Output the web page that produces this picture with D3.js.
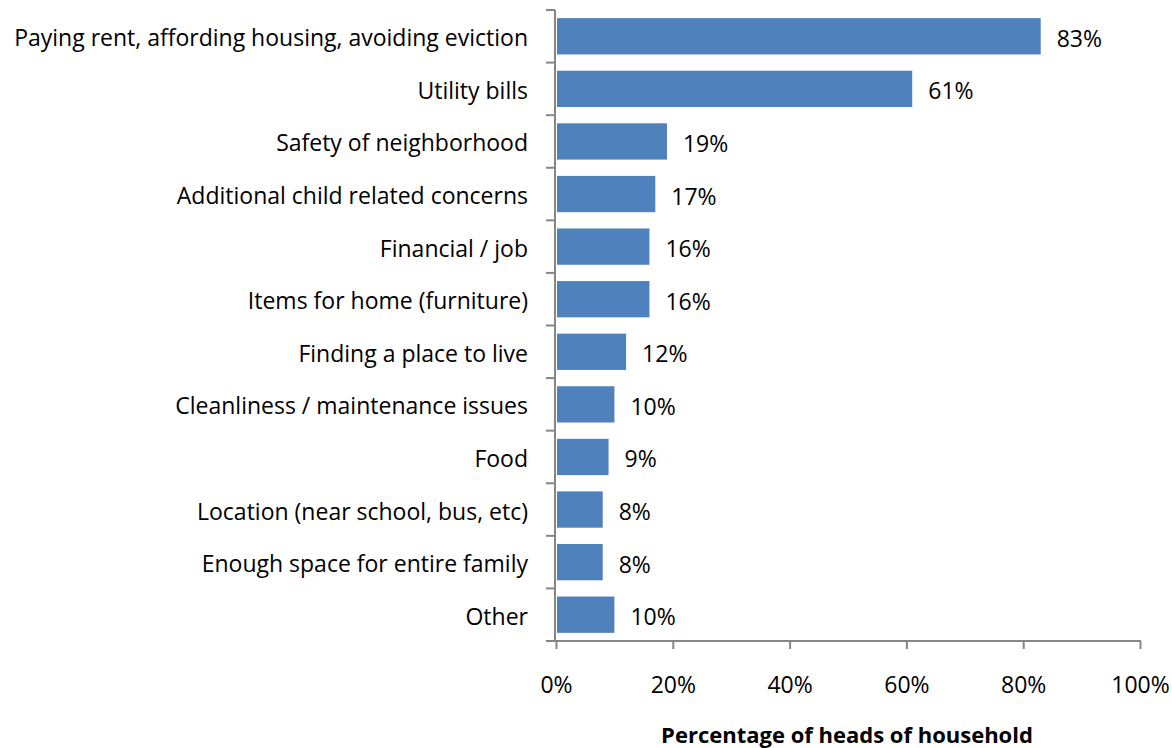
<!DOCTYPE html>
<html>
<head>
<meta charset="utf-8">
<script src="https://cdn.jsdelivr.net/npm/d3@7"></script>
<style>
  html, body { margin: 0; padding: 0; background: #ffffff; }
  svg { display: block; }
  text { font-family: "Open Sans", "Liberation Sans", sans-serif; fill: #000; }
</style>
</head>
<body>
<svg id="chart" width="1172" height="748"></svg>
<script>
// Concerns reported by heads of household
const categories = [
  "Paying rent, affording housing, avoiding eviction",
  "Utility bills",
  "Safety of neighborhood",
  "Additional child related concerns",
  "Financial / job",
  "Items for home (furniture)",
  "Finding a place to live",
  "Cleanliness / maintenance issues",
  "Food",
  "Location (near school, bus, etc)",
  "Enough space for entire family",
  "Other"
];
const percentages = [83, 61, 19, 17, 16, 16, 12, 10, 9, 8, 8, 10];
const xTicks = [0, 20, 40, 60, 80, 100];
const xTitle = "Percentage of heads of household";

const svg = d3.select("#chart");
const axisColor = "#868686";
const barColor = "#4F81BD";
const fontSize = 23;

const x = d3.scaleLinear().domain([0, 100]).range([556, 1140]);
const y = d3.scaleBand().domain(categories).range([10, 641])
  .paddingInner(0.31).paddingOuter(0.155);

const rows = categories.map((c, i) => ({ label: c, value: percentages[i] }));

// bars
svg.append("g").selectAll("rect").data(rows).join("rect")
  .attr("x", x(0) + 1)
  .attr("y", d => y(d.label))
  .attr("width", d => x(d.value) - x(0) - 1)
  .attr("height", y.bandwidth())
  .attr("fill", barColor);

// value labels
svg.append("g").selectAll("text").data(rows).join("text")
  .attr("x", d => x(d.value) + 16)
  .attr("y", d => y(d.label) + y.bandwidth() / 2 + 10.5)
  .attr("font-size", fontSize)
  .text(d => d.value + "%");

// category axis (left)
const yAxisG = svg.append("g");
const step = y.step();
yAxisG.append("line")
  .attr("x1", 555).attr("x2", 555)
  .attr("y1", 10).attr("y2", 641)
  .attr("stroke", axisColor).attr("stroke-width", 2);
yAxisG.selectAll("line.tick").data(d3.range(categories.length + 1)).join("line")
  .attr("class", "tick")
  .attr("x1", 546).attr("x2", 555)
  .attr("y1", i => 10 + i * step).attr("y2", i => 10 + i * step)
  .attr("stroke", axisColor).attr("stroke-width", 2);
yAxisG.selectAll("text").data(categories).join("text")
  .attr("x", 528)
  .attr("y", d => y(d) + y.bandwidth() / 2 + 10)
  .attr("text-anchor", "end")
  .attr("font-size", fontSize)
  .text(d => d);

// value axis (bottom)
const xAxis = d3.axisBottom(x)
  .tickValues(xTicks)
  .tickFormat(d => d + "%")
  .tickSize(8)
  .tickSizeOuter(0)
  .tickPadding(28);
const xAxisG = svg.append("g").attr("transform", "translate(0,641)").call(xAxis);
xAxisG.select(".domain").remove();
xAxisG.insert("line", ":first-child")
  .attr("x1", 546).attr("x2", 1141)
  .attr("y1", 0).attr("y2", 0)
  .attr("stroke", axisColor).attr("stroke-width", 2);
xAxisG.selectAll(".tick line").attr("stroke", axisColor).attr("stroke-width", 2);
xAxisG.selectAll(".tick text")
  .attr("font-size", fontSize)
  .attr("font-family", "'Open Sans', 'Liberation Sans', sans-serif")
  .attr("fill", "#000");

// axis title
svg.append("text")
  .attr("x", 847).attr("y", 743)
  .attr("text-anchor", "middle")
  .attr("font-size", 22)
  .attr("font-weight", "bold")
  .text(xTitle);
</script>
</body>
</html>
